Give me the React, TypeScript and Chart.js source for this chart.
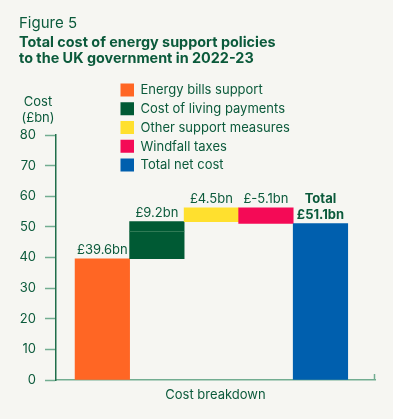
import React, { useEffect, useRef } from "react";
import { Chart, registerables } from "chart.js";

Chart.register(...registerables);

const categories = [
  "Energy bills support",
  "Cost of living payments",
  "Other support measures",
  "Windfall taxes",
  "Total net cost",
];
const valueLabels = ["£39.6bn", "£9.2bn", "£4.5bn", "£-5.1bn", "£51.1bn"];
const barLow = [0, 39.6, 51.7, 51.1, 0];
const barHigh = [39.6, 51.7, 56.2, 56.2, 51.1];
const livingPaymentsSplit = 48.8;
const yTicks = [0, 10, 20, 30, 40, 50, 60, 70, 80];

const colors = ["#ff6624", "#005a34", "#ffe02e", "#f40a56", "#005fae"];
const TEXT = "#0b5a3b";
const AXIS = "#1f6e4a";
const TICK = "#72ad91";
const BG = "#f6f6f2";
const FONT = "Inter, 'Open Sans', sans-serif";

export default function App() {
  const ref = useRef<HTMLCanvasElement | null>(null);

  useEffect(() => {
    const canvas = ref.current;
    if (!canvas) return;

    const overlay = {
      id: "overlay",
      afterDraw(chart: any) {
        const ctx = chart.ctx;
        const ys = chart.scales.y;
        const area = chart.chartArea;
        ctx.save();
        // Titles
        ctx.fillStyle = TEXT;
        ctx.textAlign = "left";
        ctx.textBaseline = "alphabetic";
        ctx.font = `400 15px ${FONT}`;
        ctx.fillText("Figure 5", 19, 28);
        ctx.font = `700 14.4px ${FONT}`;
        ctx.fillText("Total cost of energy support policies", 19, 46.7);
        ctx.fillText("to the UK government in 2022-23", 19, 63.3);

        // Legend
        ctx.font = `400 13px ${FONT}`;
        ctx.textBaseline = "middle";
        categories.forEach((c, i) => {
          const top = 83.5 + i * 18.75;
          ctx.fillStyle = colors[i];
          ctx.fillRect(120.5, top, 13.5, 13);
          ctx.fillStyle = TEXT;
          ctx.fillText(c, 140.5, top + 7);
        });

        // Y axis title
        ctx.textAlign = "center";
        ctx.fillText("Cost", 38, 102);
        ctx.fillText("(£bn)", 38, 118);

        // Divider in cost of living bar
        const meta = chart.getDatasetMeta(0);
        const el = meta.data[1];
        if (el) {
          const w = el.width;
          const yDiv = Math.round(ys.getPixelForValue(livingPaymentsSplit)) + 0.5;
          ctx.strokeStyle = "#2f7a55";
          ctx.lineWidth = 1;
          ctx.beginPath();
          ctx.moveTo(el.x - w / 2, yDiv);
          ctx.lineTo(el.x + w / 2, yDiv);
          ctx.stroke();
        }

        // Value labels
        ctx.fillStyle = TEXT;
        ctx.textAlign = "center";
        ctx.textBaseline = "middle";
        meta.data.forEach((bar: any, i: number) => {
          const top = ys.getPixelForValue(Math.max(barLow[i], barHigh[i]));
          if (i === categories.length - 1) {
            ctx.font = `700 13px ${FONT}`;
            ctx.fillText("Total", bar.x, top - 24);
            ctx.fillText(valueLabels[i], bar.x, top - 8);
          } else {
            ctx.font = `400 13px ${FONT}`;
            ctx.fillText(valueLabels[i], bar.x, top - 9);
          }
        });

        // right end tick of x axis
        ctx.strokeStyle = TICK;
        ctx.lineWidth = 1.5;
        ctx.beginPath();
        ctx.moveTo(area.right - 0.5, area.bottom);
        ctx.lineTo(area.right - 0.5, area.bottom - 6);
        ctx.stroke();
        ctx.restore();
      },
    };

    const chart = new Chart(canvas, {
      type: "bar",
      data: {
        datasets: [
          {
            label: "Cost",
            data: categories.map((_, i) => ({ x: i, y: [barLow[i], barHigh[i]] })) as any,
            backgroundColor: colors,
            borderWidth: 0,
            barPercentage: 1,
            categoryPercentage: 1,
          },
        ],
      },
      options: {
        animation: false,
        responsive: false,
        devicePixelRatio: 1,
        layout: { padding: { top: 135, right: 18, left: 0, bottom: 0 } },
        plugins: {
          legend: { display: false },
          tooltip: { enabled: false },
          title: { display: false },
        },
        scales: {
          x: {
            type: "linear",
            offset: false,
            min: -0.85,
            max: 5.0,
            ticks: { display: false },
            grid: { display: false },
            border: { display: true, color: TICK, width: 1.5 },
            title: {
              display: true,
              text: "Cost breakdown",
              color: TEXT,
              font: { family: FONT, size: 13 },
              padding: { top: 0, bottom: 16 },
            },
            afterFit: (s: any) => {
              s.height = 39;
            },
          },
          y: {
            min: 0,
            max: 80,
            afterBuildTicks: (s: any) => {
              s.ticks = yTicks.map((v) => ({ value: v }));
            },
            ticks: {
              color: TEXT,
              font: { family: FONT, size: 13 },
              padding: 9,
            },
            grid: {
              display: true,
              drawOnChartArea: false,
              drawTicks: true,
              tickLength: 11,
              tickColor: TICK,
              tickWidth: 1.5,
            },
            border: { display: true, color: AXIS, width: 1.5 },
            afterFit: (s: any) => {
              s.width = 56;
            },
          },
        },
      },
      plugins: [overlay],
    });
    return () => chart.destroy();
  }, []);

  return (
    <div
      style={{
        position: "fixed",
        left: 0,
        top: 0,
        width: 393,
        height: 419,
        background: BG,
      }}
    >
      <canvas ref={ref} width={393} height={419} style={{ display: "block", width: 393, height: 419 }} />
    </div>
  );
}
